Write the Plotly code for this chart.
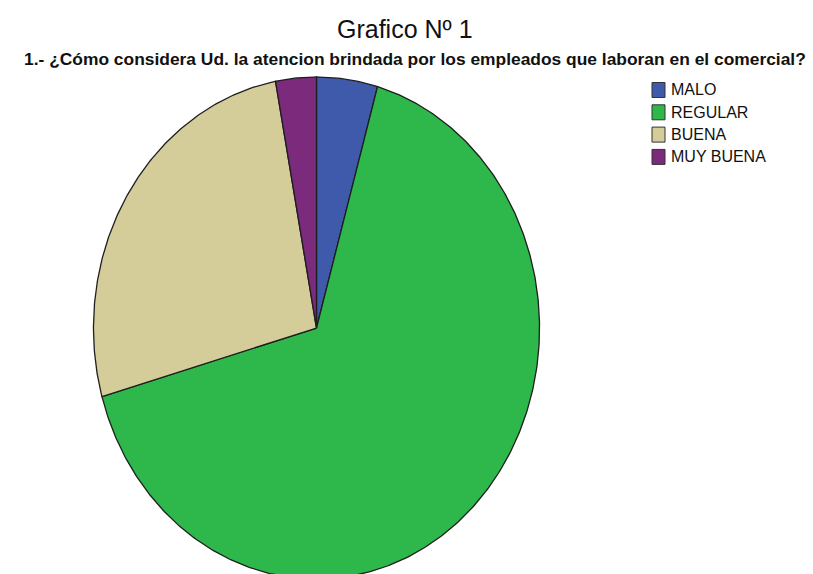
import numpy as np
import plotly.graph_objects as go

# Survey responses
categories = ["MALO", "REGULAR", "BUENA", "MUY BUENA"]
counts = [3, 45, 18, 2]
colors = ["#3f5aab", "#2eb84b", "#d4cd99", "#7b2a7c"]

title_text = "Grafico Nº 1"
subtitle_text = "1.- ¿Cómo considera Ud. la atencion brindada por los empleados que laboran en el comercial?"

W, H = 813, 574
FONT = "Liberation Sans, Arial, sans-serif"

# Plot area (unit circle -> ellipse: 223 px horizontal radius, 251 px vertical)
L_M, T_M = 89, 72
PW, PH = 455, H - T_M


def px(x):
    return (x - L_M) / PW


def py(y):
    return (H - y) / PH


fig = go.Figure()

# Slices drawn clockwise from 12 o'clock on a unit circle; the axes
# stretch it into the ellipse of the original output.
total = sum(counts)
start = 0.0
for name, val, col in zip(categories, counts, colors):
    sweep = 2 * np.pi * val / total
    n = max(int(sweep / 0.01), 4)
    t = np.linspace(start, start + sweep, n)
    xs = np.concatenate([[0.0], np.sin(t), [0.0]])
    ys = np.concatenate([[0.0], np.cos(t), [0.0]])
    fig.add_trace(go.Scatter(
        x=xs, y=ys, mode="lines", fill="toself", fillcolor=col,
        line=dict(color="#1e1e1e", width=1.3), name=name,
        showlegend=False, hoverinfo="name",
    ))
    start += sweep

# Legend: swatches and labels
leg_x0, leg_y0, leg_dy = 652, 90, 22.3
for i, (name, col) in enumerate(zip(categories, colors)):
    yc = leg_y0 + i * leg_dy
    fig.add_shape(type="rect", xref="paper", yref="paper",
                  x0=px(leg_x0), x1=px(leg_x0 + 13),
                  y0=py(yc - 7.5), y1=py(yc + 7.5),
                  fillcolor=col, line=dict(color="#333333", width=1))
    fig.add_annotation(text=name, xref="paper", yref="paper",
                       x=px(leg_x0 + 17), y=py(yc),
                       xanchor="left", yanchor="middle", showarrow=False,
                       font=dict(family=FONT, size=16, color="#111111"))

fig.add_annotation(text=title_text, xref="paper", yref="paper",
                   x=px(405), y=py(29), xanchor="center", yanchor="middle",
                   showarrow=False,
                   font=dict(family=FONT, size=25, color="#111111"))
fig.add_annotation(text="<b>" + subtitle_text + "</b>", xref="paper", yref="paper",
                   x=px(415), y=py(59), xanchor="center", yanchor="middle",
                   showarrow=False,
                   font=dict(family=FONT, size=17.4, color="#111111"))

fig.update_layout(
    width=W, height=H,
    margin=dict(l=L_M, r=W - L_M - PW, t=T_M, b=0),
    paper_bgcolor="white", plot_bgcolor="white",
    xaxis=dict(range=[-1.02, 1.02], visible=False, fixedrange=True),
    yaxis=dict(range=[-0.98, 1.02], visible=False, fixedrange=True),
    showlegend=False,
)

fig.write_html("out.html")
